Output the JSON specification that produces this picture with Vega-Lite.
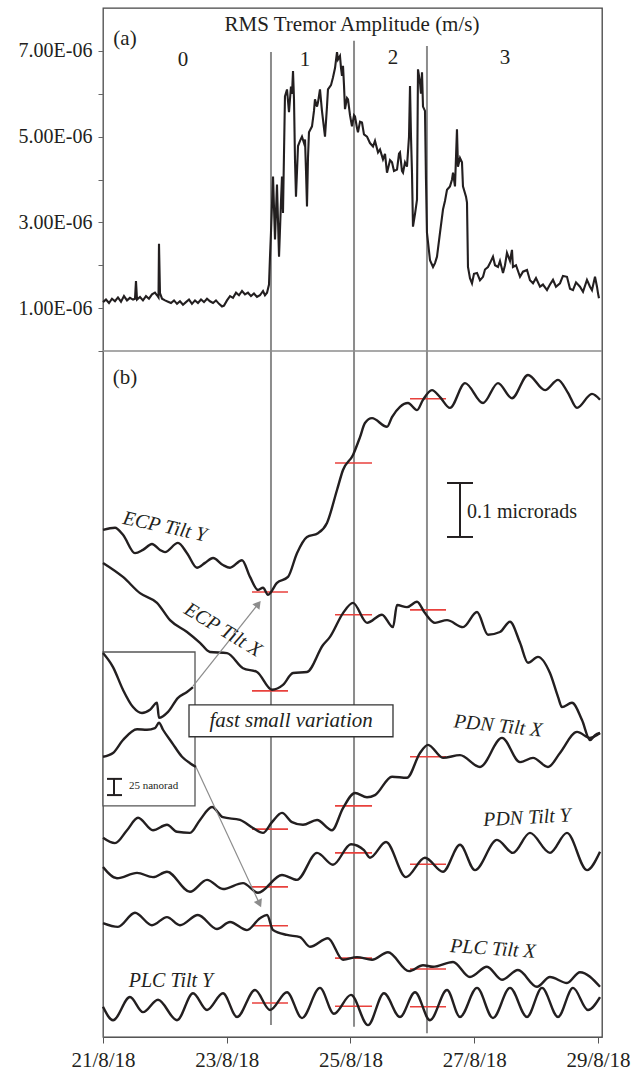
{
"$schema":"https://vega.github.io/schema/vega-lite/v6.json",
"width":499,"height":1029,
"autosize":"none",
"padding":{"left":103,"top":8,"right":40,"bottom":34},
"config":{"font":"Liberation Serif","view":{"stroke":"#444","strokeWidth":1.3}},
"resolve":{"scale":{"y":"independent"},"axis":{"y":"independent"}},
"layer":[
{
"encoding":{
"x":{"field":"d","type":"quantitative","title":null,"scale":{"domain":[0,8.065],"nice":false,"zero":false},
"axis":{"values":[0,2,4,6,8],"labelExpr":"(21 + datum.value) + '/8/18'","tickSize":6,"labelPadding":6,"labelFontSize":21,"labelFont":"Liberation Serif","labelColor":"#231f20","domainColor":"#555","tickColor":"#555","grid":false,"labelFlush":false}},
"y":{"field":"v","type":"quantitative","title":null,"scale":{"domain":[0,1905.6],"nice":false,"zero":false},"axis":null}
},
"layer":[
{"data":{"values":[{"d":2.715,"v":22,"v2":1824},{"d":4.057,"v":19,"v2":1845},{"d":5.236,"v":7,"v2":1835}]},
"mark":{"type":"rule","color":"#8c8c8c","strokeWidth":2},
"encoding":{"y2":{"field":"v2"}}},
{"data":{"values":[
{"d":2.408,"d2":2.990,"v":824},{"d":2.408,"d2":2.990,"v":641},{"d":2.408,"d2":2.990,"v":385},{"d":2.408,"d2":2.990,"v":278},{"d":2.408,"d2":2.990,"v":206},{"d":2.408,"d2":2.990,"v":63},
{"d":3.750,"d2":4.348,"v":1063},{"d":3.750,"d2":4.348,"v":782},{"d":3.750,"d2":4.348,"v":428},{"d":3.750,"d2":4.348,"v":341},{"d":3.750,"d2":4.348,"v":146},{"d":3.750,"d2":4.348,"v":57},
{"d":4.962,"d2":5.544,"v":1182},{"d":4.962,"d2":5.544,"v":791},{"d":4.962,"d2":5.544,"v":519},{"d":4.962,"d2":5.544,"v":320},{"d":4.962,"d2":5.544,"v":126},{"d":4.962,"d2":5.544,"v":56}]},
"mark":{"type":"rule","color":"#e8413c","strokeWidth":1.6},
"encoding":{"x2":{"field":"d2"}}},
{"data":{"values":[
{"s":"ECPY","d":0,"v":939},{"s":"ECPY","d":0.194,"v":943},{"s":"ECPY","d":0.323,"v":930},{"s":"ECPY","d":0.517,"v":896},{"s":"ECPY","d":0.646,"v":902},{"s":"ECPY","d":0.792,"v":913},{"s":"ECPY","d":0.921,"v":902},{"s":"ECPY","d":1.002,"v":898},{"s":"ECPY","d":1.212,"v":915},{"s":"ECPY","d":1.358,"v":896},{"s":"ECPY","d":1.519,"v":869},{"s":"ECPY","d":1.649,"v":878},{"s":"ECPY","d":1.778,"v":887},{"s":"ECPY","d":1.939,"v":874},{"s":"ECPY","d":2.053,"v":869},{"s":"ECPY","d":2.247,"v":883},{"s":"ECPY","d":2.376,"v":852},{"s":"ECPY","d":2.505,"v":828},{"s":"ECPY","d":2.586,"v":832},{"s":"ECPY","d":2.667,"v":819},{"s":"ECPY","d":2.812,"v":841},{"s":"ECPY","d":2.990,"v":852},{"s":"ECPY","d":3.135,"v":896},{"s":"ECPY","d":3.297,"v":926},{"s":"ECPY","d":3.475,"v":933},{"s":"ECPY","d":3.620,"v":952},{"s":"ECPY","d":3.782,"v":1013},{"s":"ECPY","d":3.879,"v":1050},{"s":"ECPY","d":4.041,"v":1078},{"s":"ECPY","d":4.154,"v":1111},{"s":"ECPY","d":4.234,"v":1137},{"s":"ECPY","d":4.348,"v":1146},{"s":"ECPY","d":4.590,"v":1130},{"s":"ECPY","d":4.671,"v":1148},{"s":"ECPY","d":4.800,"v":1167},{"s":"ECPY","d":4.929,"v":1174},{"s":"ECPY","d":5.075,"v":1161},{"s":"ECPY","d":5.172,"v":1180},{"s":"ECPY","d":5.317,"v":1198},{"s":"ECPY","d":5.447,"v":1185},{"s":"ECPY","d":5.608,"v":1165},{"s":"ECPY","d":5.851,"v":1211},{"s":"ECPY","d":6.142,"v":1174},{"s":"ECPY","d":6.384,"v":1211},{"s":"ECPY","d":6.610,"v":1183},{"s":"ECPY","d":6.869,"v":1226},{"s":"ECPY","d":7.144,"v":1198},{"s":"ECPY","d":7.354,"v":1217},{"s":"ECPY","d":7.515,"v":1193},{"s":"ECPY","d":7.661,"v":1165},{"s":"ECPY","d":7.903,"v":1191},{"s":"ECPY","d":8.033,"v":1180},
{"s":"ECPX","d":0,"v":878},{"s":"ECPX","d":0.323,"v":852},{"s":"ECPX","d":0.598,"v":822},{"s":"ECPX","d":0.873,"v":804},{"s":"ECPX","d":1.083,"v":772},{"s":"ECPX","d":1.358,"v":750},{"s":"ECPX","d":1.568,"v":730},{"s":"ECPX","d":1.729,"v":713},{"s":"ECPX","d":2.004,"v":711},{"s":"ECPX","d":2.263,"v":683},{"s":"ECPX","d":2.489,"v":676},{"s":"ECPX","d":2.731,"v":643},{"s":"ECPX","d":2.909,"v":652},{"s":"ECPX","d":3.071,"v":674},{"s":"ECPX","d":3.297,"v":676},{"s":"ECPX","d":3.556,"v":726},{"s":"ECPX","d":3.669,"v":741},{"s":"ECPX","d":3.879,"v":785},{"s":"ECPX","d":4.041,"v":804},{"s":"ECPX","d":4.267,"v":767},{"s":"ECPX","d":4.509,"v":782},{"s":"ECPX","d":4.687,"v":759},{"s":"ECPX","d":4.752,"v":800},{"s":"ECPX","d":4.913,"v":796},{"s":"ECPX","d":5.075,"v":806},{"s":"ECPX","d":5.204,"v":785},{"s":"ECPX","d":5.366,"v":767},{"s":"ECPX","d":5.560,"v":772},{"s":"ECPX","d":5.818,"v":759},{"s":"ECPX","d":6.045,"v":787},{"s":"ECPX","d":6.222,"v":745},{"s":"ECPX","d":6.416,"v":750},{"s":"ECPX","d":6.578,"v":769},{"s":"ECPX","d":6.740,"v":730},{"s":"ECPX","d":6.869,"v":693},{"s":"ECPX","d":7.030,"v":704},{"s":"ECPX","d":7.224,"v":674},{"s":"ECPX","d":7.354,"v":630},{"s":"ECPX","d":7.418,"v":611},{"s":"ECPX","d":7.580,"v":619},{"s":"ECPX","d":7.742,"v":587},{"s":"ECPX","d":7.871,"v":550},{"s":"ECPX","d":7.952,"v":559},{"s":"ECPX","d":8.033,"v":563},
{"s":"PDNX","d":0,"v":369},{"s":"PDNX","d":0.194,"v":359},{"s":"PDNX","d":0.388,"v":383},{"s":"PDNX","d":0.566,"v":406},{"s":"PDNX","d":0.808,"v":383},{"s":"PDNX","d":1.034,"v":393},{"s":"PDNX","d":1.196,"v":380},{"s":"PDNX","d":1.406,"v":378},{"s":"PDNX","d":1.568,"v":402},{"s":"PDNX","d":1.762,"v":426},{"s":"PDNX","d":1.939,"v":407},{"s":"PDNX","d":2.214,"v":402},{"s":"PDNX","d":2.424,"v":387},{"s":"PDNX","d":2.586,"v":378},{"s":"PDNX","d":2.731,"v":398},{"s":"PDNX","d":2.893,"v":415},{"s":"PDNX","d":3.055,"v":398},{"s":"PDNX","d":3.232,"v":393},{"s":"PDNX","d":3.459,"v":402},{"s":"PDNX","d":3.701,"v":383},{"s":"PDNX","d":3.879,"v":424},{"s":"PDNX","d":4.073,"v":452},{"s":"PDNX","d":4.267,"v":444},{"s":"PDNX","d":4.396,"v":448},{"s":"PDNX","d":4.671,"v":482},{"s":"PDNX","d":4.913,"v":480},{"s":"PDNX","d":5.123,"v":526},{"s":"PDNX","d":5.253,"v":541},{"s":"PDNX","d":5.495,"v":517},{"s":"PDNX","d":5.770,"v":522},{"s":"PDNX","d":6.093,"v":500},{"s":"PDNX","d":6.449,"v":554},{"s":"PDNX","d":6.740,"v":509},{"s":"PDNX","d":6.950,"v":517},{"s":"PDNX","d":7.192,"v":500},{"s":"PDNX","d":7.386,"v":526},{"s":"PDNX","d":7.661,"v":565},{"s":"PDNX","d":7.871,"v":554},{"s":"PDNX","d":8.033,"v":563},
{"s":"PDNY","d":0,"v":315},{"s":"PDNY","d":0.226,"v":294},{"s":"PDNY","d":0.550,"v":304},{"s":"PDNY","d":0.808,"v":296},{"s":"PDNY","d":1.034,"v":306},{"s":"PDNY","d":1.406,"v":269},{"s":"PDNY","d":1.681,"v":291},{"s":"PDNY","d":1.939,"v":274},{"s":"PDNY","d":2.263,"v":285},{"s":"PDNY","d":2.505,"v":267},{"s":"PDNY","d":2.893,"v":300},{"s":"PDNY","d":3.135,"v":291},{"s":"PDNY","d":3.459,"v":341},{"s":"PDNY","d":3.717,"v":319},{"s":"PDNY","d":4.008,"v":357},{"s":"PDNY","d":4.218,"v":346},{"s":"PDNY","d":4.315,"v":332},{"s":"PDNY","d":4.574,"v":361},{"s":"PDNY","d":4.897,"v":296},{"s":"PDNY","d":5.204,"v":332},{"s":"PDNY","d":5.495,"v":306},{"s":"PDNY","d":5.770,"v":356},{"s":"PDNY","d":6.012,"v":309},{"s":"PDNY","d":6.368,"v":365},{"s":"PDNY","d":6.626,"v":341},{"s":"PDNY","d":6.901,"v":378},{"s":"PDNY","d":7.224,"v":341},{"s":"PDNY","d":7.499,"v":378},{"s":"PDNY","d":7.822,"v":309},{"s":"PDNY","d":8.033,"v":343},
{"s":"PLCX","d":0,"v":211},{"s":"PLCX","d":0.242,"v":204},{"s":"PLCX","d":0.517,"v":230},{"s":"PLCX","d":0.792,"v":207},{"s":"PLCX","d":1.034,"v":222},{"s":"PLCX","d":1.244,"v":207},{"s":"PLCX","d":1.535,"v":226},{"s":"PLCX","d":1.842,"v":200},{"s":"PLCX","d":2.053,"v":213},{"s":"PLCX","d":2.327,"v":198},{"s":"PLCX","d":2.537,"v":220},{"s":"PLCX","d":2.651,"v":226},{"s":"PLCX","d":2.748,"v":198},{"s":"PLCX","d":2.974,"v":189},{"s":"PLCX","d":3.184,"v":185},{"s":"PLCX","d":3.346,"v":167},{"s":"PLCX","d":3.636,"v":183},{"s":"PLCX","d":3.879,"v":143},{"s":"PLCX","d":4.105,"v":148},{"s":"PLCX","d":4.348,"v":143},{"s":"PLCX","d":4.606,"v":157},{"s":"PLCX","d":4.946,"v":122},{"s":"PLCX","d":5.172,"v":133},{"s":"PLCX","d":5.334,"v":130},{"s":"PLCX","d":5.657,"v":139},{"s":"PLCX","d":5.931,"v":111},{"s":"PLCX","d":6.206,"v":130},{"s":"PLCX","d":6.449,"v":106},{"s":"PLCX","d":6.707,"v":124},{"s":"PLCX","d":7.014,"v":93},{"s":"PLCX","d":7.224,"v":111},{"s":"PLCX","d":7.499,"v":100},{"s":"PLCX","d":7.709,"v":120},{"s":"PLCX","d":8.033,"v":93},
{"s":"PLCY","d":0,"v":56},{"s":"PLCY","d":0.162,"v":31},{"s":"PLCY","d":0.436,"v":74},{"s":"PLCY","d":0.646,"v":46},{"s":"PLCY","d":0.889,"v":69},{"s":"PLCY","d":1.196,"v":31},{"s":"PLCY","d":1.455,"v":81},{"s":"PLCY","d":1.681,"v":50},{"s":"PLCY","d":1.939,"v":81},{"s":"PLCY","d":2.166,"v":37},{"s":"PLCY","d":2.457,"v":87},{"s":"PLCY","d":2.699,"v":50},{"s":"PLCY","d":2.974,"v":83},{"s":"PLCY","d":3.216,"v":35},{"s":"PLCY","d":3.507,"v":91},{"s":"PLCY","d":3.733,"v":43},{"s":"PLCY","d":4.008,"v":78},{"s":"PLCY","d":4.283,"v":22},{"s":"PLCY","d":4.541,"v":81},{"s":"PLCY","d":4.800,"v":37},{"s":"PLCY","d":5.043,"v":83},{"s":"PLCY","d":5.285,"v":31},{"s":"PLCY","d":5.560,"v":87},{"s":"PLCY","d":5.770,"v":37},{"s":"PLCY","d":6.045,"v":91},{"s":"PLCY","d":6.303,"v":35},{"s":"PLCY","d":6.578,"v":91},{"s":"PLCY","d":6.853,"v":37},{"s":"PLCY","d":7.095,"v":91},{"s":"PLCY","d":7.354,"v":37},{"s":"PLCY","d":7.596,"v":91},{"s":"PLCY","d":7.839,"v":50},{"s":"PLCY","d":8.033,"v":74}]},
"mark":{"type":"line","interpolate":"monotone","color":"#231f20","strokeWidth":2.4},
"encoding":{"detail":{"field":"s"}}},
{"data":{"values":[{"d":0,"d2":1.487,"v":428,"v2":713}]},
"mark":{"type":"rect","fill":"white","stroke":"#555","strokeWidth":1.3},
"encoding":{"x2":{"field":"d2"},"y2":{"field":"v2"}}},
{"data":{"values":[
{"s":"I1","d":0,"v":711},{"s":"I1","d":0.162,"v":685},{"s":"I1","d":0.323,"v":643},{"s":"I1","d":0.485,"v":611},{"s":"I1","d":0.630,"v":600},{"s":"I1","d":0.760,"v":606},{"s":"I1","d":0.873,"v":619},{"s":"I1","d":0.905,"v":591},{"s":"I1","d":1.051,"v":602},{"s":"I1","d":1.212,"v":628},{"s":"I1","d":1.358,"v":639},{"s":"I1","d":1.455,"v":648},
{"s":"I2","d":0,"v":519},{"s":"I2","d":0.162,"v":526},{"s":"I2","d":0.323,"v":550},{"s":"I2","d":0.550,"v":570},{"s":"I2","d":0.711,"v":569},{"s":"I2","d":0.840,"v":572},{"s":"I2","d":0.905,"v":582},{"s":"I2","d":0.970,"v":569},{"s":"I2","d":1.115,"v":545},{"s":"I2","d":1.277,"v":519},{"s":"I2","d":1.406,"v":507},{"s":"I2","d":1.503,"v":500}]},
"mark":{"type":"line","interpolate":"monotone","color":"#231f20","strokeWidth":2.4},
"encoding":{"detail":{"field":"s"}}},
{"data":{"values":[{"d":1.455,"v":650,"d2":2.510,"v2":802},{"d":1.503,"v":500,"d2":2.529,"v2":247}]},
"mark":{"type":"rule","color":"#8c8c8c","strokeWidth":1.2},
"encoding":{"x2":{"field":"d2"},"y2":{"field":"v2"}}},
{"data":{"values":[{"d":2.510,"v":802}]},
"mark":{"type":"point","shape":"triangle-up","filled":true,"color":"#8c8c8c","opacity":1,"size":80,"angle":38}},
{"data":{"values":[{"d":2.529,"v":247}]},
"mark":{"type":"point","shape":"triangle-up","filled":true,"color":"#8c8c8c","opacity":1,"size":80,"angle":155}},
{"data":{"values":[{"d":1.390,"d2":4.687,"v":556,"v2":615}]},
"mark":{"type":"rect","fill":"white","stroke":"#333","strokeWidth":1.3},
"encoding":{"x2":{"field":"d2"},"y2":{"field":"v2"}}},
{"data":{"values":[{"d":3.04,"v":585,"label":"fast small variation"}]},
"mark":{"type":"text","fontSize":21,"fontStyle":"italic","color":"#231f20","align":"center","baseline":"middle"},
"encoding":{"text":{"field":"label"}}},
{"data":{"values":[{"d":1.002,"v":945,"label":"ECP Tilt Y"}]},
"mark":{"type":"text","fontSize":20,"fontStyle":"italic","color":"#231f20","align":"center","baseline":"middle","angle":12},
"encoding":{"text":{"field":"label"}}},
{"data":{"values":[{"d":1.939,"v":754,"label":"ECP Tilt X"}]},
"mark":{"type":"text","fontSize":20,"fontStyle":"italic","color":"#231f20","align":"center","baseline":"middle","angle":31},
"encoding":{"text":{"field":"label"}}},
{"data":{"values":[{"d":6.384,"v":576,"label":"PDN Tilt X"}]},
"mark":{"type":"text","fontSize":20,"fontStyle":"italic","color":"#231f20","align":"center","baseline":"middle","angle":6},
"encoding":{"text":{"field":"label"}}},
{"data":{"values":[{"d":6.853,"v":406,"label":"PDN Tilt Y"}]},
"mark":{"type":"text","fontSize":20,"fontStyle":"italic","color":"#231f20","align":"center","baseline":"middle","angle":-3},
"encoding":{"text":{"field":"label"}}},
{"data":{"values":[{"d":6.303,"v":163,"label":"PLC Tilt X"}]},
"mark":{"type":"text","fontSize":20,"fontStyle":"italic","color":"#231f20","align":"center","baseline":"middle","angle":4},
"encoding":{"text":{"field":"label"}}},
{"data":{"values":[{"d":1.099,"v":104,"label":"PLC Tilt Y"}]},
"mark":{"type":"text","fontSize":20,"fontStyle":"italic","color":"#231f20","align":"center","baseline":"middle"},
"encoding":{"text":{"field":"label"}}},
{"data":{"values":[{"d":0.356,"v":1220,"label":"(b)"}]},
"mark":{"type":"text","fontSize":21,"color":"#231f20","align":"center","baseline":"middle"},
"encoding":{"text":{"field":"label"}}},
{"data":{"values":[{"d":5.770,"v":926,"v2":1026},{"d":0.178,"v":448,"v2":478}]},
"mark":{"type":"rule","color":"#231f20","strokeWidth":2},
"encoding":{"y2":{"field":"v2"}}},
{"data":{"values":[{"d":5.560,"d2":5.980,"v":926},{"d":5.560,"d2":5.980,"v":1026},{"d":0.065,"d2":0.307,"v":448},{"d":0.065,"d2":0.307,"v":478}]},
"mark":{"type":"rule","color":"#231f20","strokeWidth":2},
"encoding":{"x2":{"field":"d2"}}},
{"data":{"values":[{"d":5.883,"v":972,"label":"0.1 microrads"}]},
"mark":{"type":"text","fontSize":20,"color":"#231f20","align":"left","baseline":"middle"},
"encoding":{"text":{"field":"label"}}},
{"data":{"values":[{"d":0.420,"v":465,"label":"25 nanorad"}]},
"mark":{"type":"text","fontSize":11,"color":"#231f20","align":"left","baseline":"middle"},
"encoding":{"text":{"field":"label"}}}
]
},
{
"encoding":{
"x":{"field":"d","type":"quantitative","title":null,"scale":{"domain":[0,8.065],"nice":false,"zero":false},
"axis":{"values":[0,2,4,6,8],"labelExpr":"(21 + datum.value) + '/8/18'","tickSize":6,"labelPadding":6,"labelFontSize":21,"labelFont":"Liberation Serif","labelColor":"#231f20","domainColor":"#555","tickColor":"#555","grid":false,"labelFlush":false}},
"y":{"field":"rms","type":"quantitative","title":null,"scale":{"domain":[-1.6e-5,8e-6],"nice":false,"zero":false},
"axis":{"values":[0,1e-6,2e-6,3e-6,4e-6,5e-6,6e-6,7e-6],"labelExpr":"indexof([1,3,5,7], round(datum.value*1e6)) >= 0 ? format(datum.value*1e6, '.2f') + 'E-06' : ''","tickSize":5,"labelPadding":6,"labelFontSize":20,"labelFont":"Liberation Serif","labelColor":"#231f20","domainColor":"#666","tickColor":"#666","grid":false}}
},
"layer":[
{"data":{"values":[{"d":0,"d2":8.065,"rms":0}]},
"mark":{"type":"rule","color":"#8c8c8c","strokeWidth":1.6},
"encoding":{"x2":{"field":"d2"}}},
{"data":{"values":[
{"d":0,"rms":1.14e-6},{"d":0.048,"rms":1.20e-6},{"d":0.097,"rms":1.12e-6},{"d":0.145,"rms":1.22e-6},{"d":0.194,"rms":1.16e-6},{"d":0.242,"rms":1.25e-6},{"d":0.291,"rms":1.15e-6},{"d":0.339,"rms":1.28e-6},{"d":0.388,"rms":1.18e-6},{"d":0.436,"rms":1.24e-6},{"d":0.485,"rms":1.20e-6},{"d":0.517,"rms":1.22e-6},{"d":0.533,"rms":1.63e-6},{"d":0.550,"rms":1.20e-6},{"d":0.598,"rms":1.26e-6},{"d":0.646,"rms":1.18e-6},{"d":0.695,"rms":1.28e-6},{"d":0.743,"rms":1.22e-6},{"d":0.792,"rms":1.32e-6},{"d":0.840,"rms":1.36e-6},{"d":0.873,"rms":1.30e-6},{"d":0.897,"rms":1.25e-6},{"d":0.905,"rms":2.50e-6},{"d":0.921,"rms":1.35e-6},{"d":0.954,"rms":1.22e-6},{"d":1.002,"rms":1.18e-6},{"d":1.051,"rms":1.15e-6},{"d":1.099,"rms":1.12e-6},{"d":1.148,"rms":1.18e-6},{"d":1.196,"rms":1.10e-6},{"d":1.244,"rms":1.16e-6},{"d":1.293,"rms":1.08e-6},{"d":1.341,"rms":1.14e-6},{"d":1.390,"rms":1.20e-6},{"d":1.438,"rms":1.10e-6},{"d":1.487,"rms":1.18e-6},{"d":1.535,"rms":1.12e-6},{"d":1.584,"rms":1.20e-6},{"d":1.632,"rms":1.14e-6},{"d":1.681,"rms":1.22e-6},{"d":1.729,"rms":1.16e-6},{"d":1.778,"rms":1.12e-6},{"d":1.826,"rms":1.18e-6},{"d":1.875,"rms":1.10e-6},{"d":1.923,"rms":1.04e-6},{"d":1.956,"rms":1.06e-6},{"d":2.004,"rms":1.18e-6},{"d":2.053,"rms":1.28e-6},{"d":2.101,"rms":1.24e-6},{"d":2.150,"rms":1.36e-6},{"d":2.198,"rms":1.30e-6},{"d":2.247,"rms":1.40e-6},{"d":2.295,"rms":1.32e-6},{"d":2.343,"rms":1.36e-6},{"d":2.392,"rms":1.28e-6},{"d":2.440,"rms":1.34e-6},{"d":2.489,"rms":1.26e-6},{"d":2.537,"rms":1.30e-6},{"d":2.586,"rms":1.40e-6},{"d":2.618,"rms":1.30e-6},{"d":2.651,"rms":1.36e-6},{"d":2.683,"rms":1.55e-6},{"d":2.699,"rms":2.20e-6},{"d":2.715,"rms":2.76e-6},{"d":2.731,"rms":3.40e-6},{"d":2.748,"rms":4.07e-6},{"d":2.780,"rms":2.60e-6},{"d":2.812,"rms":3.88e-6},{"d":2.845,"rms":2.20e-6},{"d":2.877,"rms":3.50e-6},{"d":2.893,"rms":4.07e-6},{"d":2.909,"rms":3.22e-6},{"d":2.941,"rms":5.94e-6},{"d":2.974,"rms":6.10e-6},{"d":3.006,"rms":5.57e-6},{"d":3.038,"rms":6.17e-6},{"d":3.055,"rms":6.00e-6},{"d":3.071,"rms":6.53e-6},{"d":3.087,"rms":5.87e-6},{"d":3.103,"rms":4.47e-6},{"d":3.119,"rms":3.60e-6},{"d":3.152,"rms":4.78e-6},{"d":3.184,"rms":4.90e-6},{"d":3.216,"rms":5.00e-6},{"d":3.249,"rms":4.85e-6},{"d":3.265,"rms":4.93e-6},{"d":3.281,"rms":4.20e-6},{"d":3.297,"rms":3.37e-6},{"d":3.313,"rms":4.50e-6},{"d":3.329,"rms":5.10e-6},{"d":3.378,"rms":5.24e-6},{"d":3.410,"rms":5.60e-6},{"d":3.426,"rms":5.87e-6},{"d":3.459,"rms":5.70e-6},{"d":3.475,"rms":5.80e-6},{"d":3.507,"rms":6.10e-6},{"d":3.539,"rms":5.60e-6},{"d":3.588,"rms":5.00e-6},{"d":3.620,"rms":5.70e-6},{"d":3.636,"rms":6.10e-6},{"d":3.685,"rms":6.20e-6},{"d":3.717,"rms":6.38e-6},{"d":3.750,"rms":6.60e-6},{"d":3.782,"rms":6.97e-6},{"d":3.798,"rms":6.80e-6},{"d":3.830,"rms":6.88e-6},{"d":3.847,"rms":6.60e-6},{"d":3.863,"rms":6.42e-6},{"d":3.879,"rms":6.65e-6},{"d":3.895,"rms":6.20e-6},{"d":3.911,"rms":5.64e-6},{"d":3.944,"rms":5.90e-6},{"d":3.960,"rms":5.87e-6},{"d":3.992,"rms":5.50e-6},{"d":4.024,"rms":5.24e-6},{"d":4.057,"rms":5.50e-6},{"d":4.073,"rms":5.47e-6},{"d":4.105,"rms":5.20e-6},{"d":4.121,"rms":5.10e-6},{"d":4.154,"rms":5.35e-6},{"d":4.186,"rms":5.33e-6},{"d":4.218,"rms":5.05e-6},{"d":4.267,"rms":5.00e-6},{"d":4.315,"rms":4.85e-6},{"d":4.364,"rms":4.77e-6},{"d":4.396,"rms":4.90e-6},{"d":4.445,"rms":4.63e-6},{"d":4.477,"rms":4.70e-6},{"d":4.525,"rms":4.47e-6},{"d":4.558,"rms":4.60e-6},{"d":4.590,"rms":4.16e-6},{"d":4.639,"rms":4.45e-6},{"d":4.671,"rms":4.40e-6},{"d":4.703,"rms":4.20e-6},{"d":4.752,"rms":4.23e-6},{"d":4.784,"rms":4.60e-6},{"d":4.800,"rms":4.63e-6},{"d":4.832,"rms":4.20e-6},{"d":4.849,"rms":4.16e-6},{"d":4.881,"rms":4.40e-6},{"d":4.913,"rms":4.30e-6},{"d":4.946,"rms":5.00e-6},{"d":4.962,"rms":6.18e-6},{"d":4.978,"rms":5.00e-6},{"d":4.994,"rms":4.16e-6},{"d":5.010,"rms":2.90e-6},{"d":5.043,"rms":3.20e-6},{"d":5.075,"rms":3.53e-6},{"d":5.091,"rms":6.57e-6},{"d":5.123,"rms":6.27e-6},{"d":5.139,"rms":6.00e-6},{"d":5.156,"rms":6.50e-6},{"d":5.172,"rms":5.70e-6},{"d":5.204,"rms":5.60e-6},{"d":5.220,"rms":4.00e-6},{"d":5.236,"rms":2.76e-6},{"d":5.285,"rms":2.12e-6},{"d":5.334,"rms":1.96e-6},{"d":5.366,"rms":2.05e-6},{"d":5.398,"rms":2.20e-6},{"d":5.447,"rms":2.76e-6},{"d":5.495,"rms":3.30e-6},{"d":5.527,"rms":3.50e-6},{"d":5.560,"rms":3.76e-6},{"d":5.608,"rms":3.84e-6},{"d":5.641,"rms":4.00e-6},{"d":5.657,"rms":4.16e-6},{"d":5.689,"rms":3.84e-6},{"d":5.721,"rms":5.17e-6},{"d":5.737,"rms":4.30e-6},{"d":5.770,"rms":4.50e-6},{"d":5.802,"rms":4.40e-6},{"d":5.818,"rms":3.84e-6},{"d":5.867,"rms":3.60e-6},{"d":5.883,"rms":3.46e-6},{"d":5.899,"rms":1.96e-6},{"d":5.931,"rms":1.70e-6},{"d":5.964,"rms":1.58e-6},{"d":5.996,"rms":1.80e-6},{"d":6.045,"rms":1.82e-6},{"d":6.093,"rms":1.65e-6},{"d":6.142,"rms":1.73e-6},{"d":6.174,"rms":1.90e-6},{"d":6.222,"rms":1.96e-6},{"d":6.255,"rms":2.05e-6},{"d":6.303,"rms":2.20e-6},{"d":6.336,"rms":2.00e-6},{"d":6.384,"rms":1.96e-6},{"d":6.416,"rms":2.10e-6},{"d":6.465,"rms":1.82e-6},{"d":6.497,"rms":2.00e-6},{"d":6.529,"rms":2.29e-6},{"d":6.578,"rms":2.10e-6},{"d":6.610,"rms":2.36e-6},{"d":6.626,"rms":1.96e-6},{"d":6.675,"rms":2.00e-6},{"d":6.740,"rms":1.73e-6},{"d":6.788,"rms":1.85e-6},{"d":6.853,"rms":1.89e-6},{"d":6.901,"rms":1.65e-6},{"d":6.950,"rms":1.58e-6},{"d":6.998,"rms":1.70e-6},{"d":7.063,"rms":1.50e-6},{"d":7.111,"rms":1.55e-6},{"d":7.176,"rms":1.42e-6},{"d":7.224,"rms":1.55e-6},{"d":7.273,"rms":1.66e-6},{"d":7.321,"rms":1.50e-6},{"d":7.386,"rms":1.58e-6},{"d":7.434,"rms":1.75e-6},{"d":7.499,"rms":1.73e-6},{"d":7.548,"rms":1.45e-6},{"d":7.596,"rms":1.42e-6},{"d":7.645,"rms":1.60e-6},{"d":7.709,"rms":1.50e-6},{"d":7.758,"rms":1.38e-6},{"d":7.822,"rms":1.66e-6},{"d":7.871,"rms":1.50e-6},{"d":7.903,"rms":1.42e-6},{"d":7.952,"rms":1.73e-6},{"d":7.984,"rms":1.50e-6},{"d":8.000,"rms":1.35e-6},{"d":8.016,"rms":1.23e-6}]},
"mark":{"type":"line","color":"#231f20","strokeWidth":2.1}},
{"data":{"values":[{"d":4.024,"rms":7.6e-6,"label":"RMS Tremor Amplitude (m/s)"},{"d":0.356,"rms":7.28e-6,"label":"(a)"},{"d":1.293,"rms":6.79e-6,"label":"0"},{"d":3.265,"rms":6.79e-6,"label":"1"},{"d":4.687,"rms":6.83e-6,"label":"2"},{"d":6.497,"rms":6.83e-6,"label":"3"}]},
"mark":{"type":"text","fontSize":21,"color":"#231f20","align":"center","baseline":"middle"},
"encoding":{"text":{"field":"label"}}}
]
}
]
}
